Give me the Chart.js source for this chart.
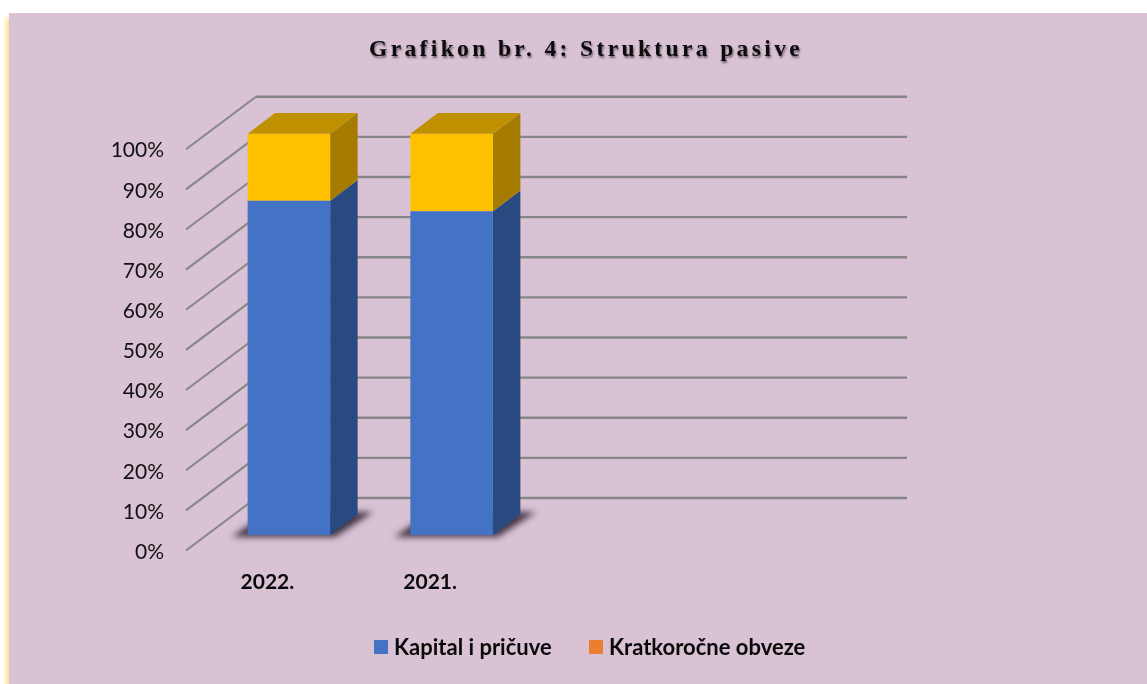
<!DOCTYPE html>
<html>
<head>
<meta charset="utf-8">
<script src="https://cdn.jsdelivr.net/npm/chart.js@4"></script>
<style>
    html, body { margin: 0; background: #fff; overflow: hidden; }
    #panel { position: absolute; left: 9px; top: 13px; width: 1138px; height: 671px; background: #d8c2d4; box-shadow: -3px 5px 4px #ffe38f; }
    #stock { position: absolute; left: 0; top: 0; }
    #title { position: absolute; left: 369px; top: 35px; white-space: nowrap; font: bold 23.5px "Liberation Serif", serif; letter-spacing: 3.37px; color: #0c0c0c; text-shadow: 1px 2px 2px rgba(50, 30, 50, 0.6); }
    #legend { position: absolute; top: 632px; left: 0; width: 100%; font: bold 22px Lato, sans-serif; color: #0a0a0a; }
    .item { position: absolute; top: 0; white-space: nowrap; line-height: 30px; }
    .item i { position: absolute; left: 0; top: 8px; width: 14px; height: 14px; }
    .item span { position: absolute; left: 20px; top: 0; }
</style>
</head>
<body>
<div id="panel"></div>
<canvas id="stock" width="1147" height="684"></canvas>
<div id="title">Grafikon br. 4: Struktura pasive</div>
<div id="legend"></div>
<script>
const categories = ['2022.', '2021.', '', ''];
const capital = [83.3, 80.7, null, null];
const shortTerm = [16.7, 19.3, null, null];
const seriesNames = ['Kapital i pričuve', 'Kratkoročne obveze'];
const legendColors = ['#4472c4', '#ed7d31'];
const legendLeft = [374, 589];

const depthX = 27.5, depthY = 20.7;

// Floor, walls and the side/top faces of the bars, drawn under the front faces
const box3d = {
    id: 'box3d',
    beforeDatasetsDraw(chart) {
        const ctx = chart.ctx;
        const y = chart.scales.y;
        const left = chart.chartArea.left;

        // walls
        y.ticks.forEach((t) => {
            const py = y.getPixelForValue(t.value);
            ctx.save();
            ctx.strokeStyle = '#868686';
            ctx.lineWidth = 2;
            ctx.beginPath();
            ctx.moveTo(left - 21.5, py + 15.5);
            ctx.lineTo(left + 48.5, py - 37);
            ctx.stroke();
            ctx.lineWidth = 2.4;
            ctx.beginPath();
            ctx.moveTo(left + 48.5, py - 37);
            ctx.lineTo(left + 699.5, py - 37);
            ctx.stroke();
            ctx.restore();
        });

        const lower = chart.getDatasetMeta(0).data;
        const upper = chart.getDatasetMeta(1).data;

        lower.forEach((bar, i) => {
            if (capital[i] === null) return;
            const r = bar.x + bar.width / 2;
            const l = bar.x - bar.width / 2;
            const base = bar.base;
            const split = bar.y;
            const top = upper[i].y;

            // floor shadow
            ctx.save();
            ctx.filter = 'blur(3px)';
            ctx.fillStyle = 'rgba(45, 30, 45, 0.85)';
            ctx.beginPath();
            ctx.moveTo(l - 16, base + 2);
            ctx.lineTo(r + 5, base + 2);
            ctx.lineTo(r + 43, base - 23);
            ctx.lineTo(l + 20, base - 23);
            ctx.closePath();
            ctx.fill();
            ctx.restore();

            const side = (y1, y2, color) => {
                ctx.fillStyle = color;
                ctx.beginPath();
                ctx.moveTo(r, y1);
                ctx.lineTo(r + depthX, y1 - depthY);
                ctx.lineTo(r + depthX, y2 - depthY);
                ctx.lineTo(r, y2);
                ctx.closePath();
                ctx.fill();
            };
            side(base, split, '#294a80');
            side(split, top, '#a67c00');

            // top face
            ctx.fillStyle = '#bf9000';
            ctx.beginPath();
            ctx.moveTo(l, top);
            ctx.lineTo(l + depthX, top - depthY);
            ctx.lineTo(r + depthX, top - depthY);
            ctx.lineTo(r, top);
            ctx.closePath();
            ctx.fill();
        });
    }
};

const chart = new Chart(document.getElementById('stock').getContext('2d'), {
    type: 'bar',
    plugins: [box3d],
    data: {
        labels: categories,
        datasets: [
            { label: seriesNames[0], data: capital, backgroundColor: '#4472c4', barPercentage: 1, categoryPercentage: 0.507 },
            { label: seriesNames[1], data: shortTerm, backgroundColor: '#ffc000', barPercentage: 1, categoryPercentage: 0.507 }
        ]
    },
    options: {
        responsive: false,
        animation: false,
        layout: { padding: { left: 0, right: 288.5, top: 133.7, bottom: 89 } },
        plugins: {
            legend: { display: false },
            tooltip: { enabled: false }
        },
        scales: {
            x: {
                stacked: true,
                grid: { display: false, drawTicks: false },
                border: { display: false },
                afterFit: (s) => { s.height = 60; },
                ticks: {
                    color: '#0a0a0a',
                    font: { family: 'Lato', size: 21, weight: 'bold' },
                    labelOffset: -21.5,
                    padding: 35,
                    maxRotation: 0
                }
            },
            y: {
                stacked: true,
                min: 0,
                max: 100,
                grid: { display: false, drawTicks: false },
                border: { display: false },
                afterFit: (s) => { s.width = 207.5; },
                ticks: {
                    stepSize: 10,
                    color: '#111',
                    font: { family: 'Lato', size: 21 },
                    labelOffset: 17,
                    padding: 43.5,
                    callback: (val) => val + '%'
                }
            }
        }
    }
});

// Legend swatches are orange for the second series, unlike its bars
const legend = document.getElementById('legend');
seriesNames.forEach((name, i) => {
    const item = document.createElement('div');
    item.className = 'item';
    item.style.left = legendLeft[i] + 'px';
    item.innerHTML = `<i style="background:${legendColors[i]}"></i><span>${name}</span>`;
    legend.appendChild(item);
});
</script>
</body>
</html>
